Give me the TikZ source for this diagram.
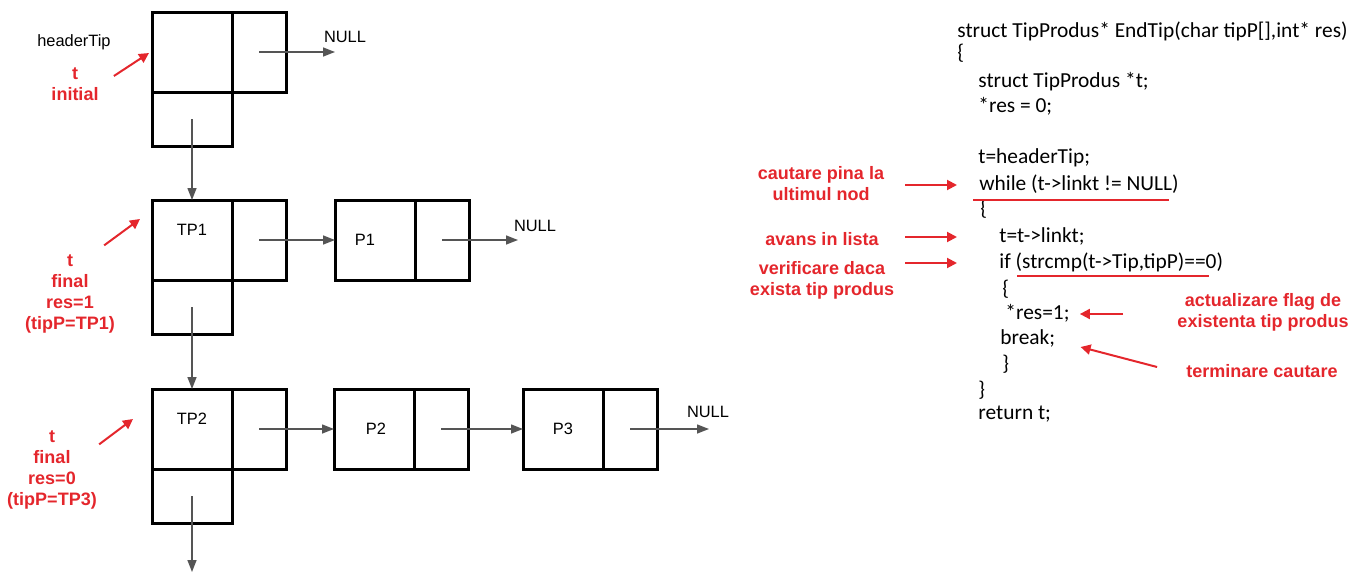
\documentclass[tikz,border=0pt]{standalone}
\usepackage{fontspec}
\setmainfont{Liberation Sans}
\newfontfamily\codefont{Carlito}
\usetikzlibrary{arrows.meta, positioning}

\definecolor{notered}{RGB}{228,38,44}
\definecolor{ptrgray}{RGB}{85,85,85}

\begin{document}
\begin{tikzpicture}[
    x=0.5pt, y=-0.5pt,
    font=\fontsize{8.2}{10}\selectfont,
    cell/.style={draw, line width=1.5pt, inner sep=0pt, outer sep=0pt},
    datacell/.style={cell, minimum width=40pt, minimum height=40pt},
    linkcell/.style={cell, minimum width=27pt, minimum height=40pt},
    downcell/.style={cell, minimum width=40pt, minimum height=27pt},
    ptr/.style={ptrgray, line width=0.7pt, -{Triangle[length=6pt,width=4.5pt]}},
    redarr/.style={notered, line width=1pt, -{Triangle[length=5pt,width=5pt]}},
    note/.style={notered, font=\fontsize{9}{10.5}\selectfont\bfseries, align=center, inner sep=0pt},
    codeline/.style={anchor=base west, inner sep=0pt, text height=7pt, text depth=2pt, font=\codefont\fontsize{10.7}{12}\selectfont},
    lbl/.style={inner sep=0pt}
]
    \useasboundingbox (0,0) rectangle (1361,573);

    % Header
    \node[datacell] (hdr) at (192,52) {};
    \node[linkcell, right=0pt of hdr] (hdrlink) {};
    \node[downcell, below=0pt of hdr] (hdrdown) {};
    \node[lbl] (headertxt) at (74,42) {headerTip};

    % Types
    \node[datacell, label={[name=tp1txt, yshift=5pt]center:TP1}] (tp1) at (192,240) {};
    \node[linkcell, right=0pt of tp1] (tp1link) {};
    \node[downcell, below=0pt of tp1] (tp1down) {};
    \node[datacell, label={[name=tp2txt, yshift=5pt]center:TP2}] (tp2) at (192,429) {};
    \node[linkcell, right=0pt of tp2] (tp2link) {};
    \node[downcell, below=0pt of tp2] (tp2down) {};

    % Products
    \node[datacell, label={[name=p1txt, xshift=-5pt]center:P1}] (p1) at (375,240) {};
    \node[linkcell, right=0pt of p1] (p1link) {};
    \node[datacell, label={[name=p2txt, xshift=1pt]center:P2}] (p2) at (374,429) {};
    \node[linkcell, right=0pt of p2] (p2link) {};
    \node[datacell, label={[name=p3txt]center:P3}] (p3) at (563,429) {};
    \node[linkcell, right=0pt of p3] (p3link) {};

    % NULL ends
    \coordinate (hdrnull) at (335,52);
    \coordinate (p1null) at (518,240);
    \coordinate (p3null) at (709,429);
    \coordinate (tp2next) at (192,572);
    \node[lbl] (hdrnulltxt) at (345,37) {NULL};
    \node[lbl] (p1nulltxt) at (535,226) {NULL};
    \node[lbl] (p3nulltxt) at (708,412) {NULL};

    % Links
    \draw[ptr] (hdrlink.center) -- (hdrnull);
    \draw[ptr] (hdrdown.center) -- (tp1.north);
    \draw[ptr] (tp1link.center) -- (p1.west);
    \draw[ptr] (p1link.center) -- (p1null);
    \draw[ptr] (tp1down.center) -- (tp2.north);
    \draw[ptr] (tp2link.center) -- (p2.west);
    \draw[ptr] (p2link.center) -- (p3.west);
    \draw[ptr] (p3link.center) -- (p3null);
    \draw[ptr] (tp2down.center) -- (tp2next);

    % Pointer t
    \node[note] (tinit) at (75,84) {t\\initial};
    \node[note] (tfinal1) at (70,294) {t\\final\\res=1\\(tipP=TP1)};
    \node[note] (tfinal2) at (52,469.5) {t\\final\\res=0\\(tipP=TP3)};
    \draw[redarr] ([shift={(15,-8)}]tinit.east) -- ([shift={(-3,1)}]hdr.west);
    \draw[redarr] ([shift={(-11,-9)}]tfinal1.north east) -- ([shift={(-12,-21)}]tp1.west);
    \draw[redarr] ([shift={(2,14.5)}]tfinal2.north east) -- ([shift={(-19,-10)}]tp2.west);

    % Code
    \node[codeline] (code1) at (957,37) {struct TipProdus* EndTip(char tipP[],int* res)};
    \node[codeline] (code2) at (957,60) {\{};
    \node[codeline] (code3) at (978,87) {struct TipProdus *t;};
    \node[codeline] (code4) at (978,112) {*res = 0;};
    \node[codeline] (code5) at (978,163) {t=headerTip;};
    \node[codeline] (code6) at (979,190) {while (t->linkt != NULL)};
    \node[codeline] (code7) at (980,215) {\{};
    \node[codeline] (code8) at (999,242) {t=t->linkt;};
    \node[codeline] (code9) at (999,268) {if (strcmp(t->Tip,tipP)==0)};
    \node[codeline] (code10) at (1002,295) {\{};
    \node[codeline] (code11) at (1005,319) {*res=1;};
    \node[codeline] (code12) at (1000,344) {break;};
    \node[codeline] (code13) at (1002,370) {\}};
    \node[codeline] (code14) at (978,396) {\}};
    \node[codeline] (code15) at (978,419) {return t;};
    \draw[notered, line width=0.7pt] ([shift={(-6,10)}]code6.base west) -- ([shift={(-10,10)}]code6.base east);
    \draw[notered, line width=0.7pt] ([shift={(18,8)}]code9.base west) -- ([shift={(-14,8)}]code9.base east);

    % Notes
    \node[note] (cautare) at (821,184) {cautare pina la\\ultimul nod};
    \node[note] (avans) at (822,239) {avans in lista};
    \node[note] (verif) at (822,280.5) {verificare daca\\exista tip produs};
    \node[note] (actual) at (1263,312.5) {actualizare flag de\\existenta tip produs};
    \node[note] (termin) at (1262,371) {terminare cautare};
    \coordinate (arrtail) at (905,0);
    \draw[redarr, shorten >=11pt] (arrtail |- code6.west) -- (code6.west);
    \draw[redarr, shorten >=21pt] (arrtail |- code8.west) -- (code8.west);
    \draw[redarr, shorten >=21pt] (arrtail |- code9.west) -- (code9.west);
    \draw[redarr, shorten <=27pt, shorten >=5pt] (actual.west |- code11.east) -- (code11.east);
    \draw[redarr] ([shift={(-29,-4)}]termin.west) -- ([shift={(25,8)}]code12.east);
\end{tikzpicture}
\end{document}
